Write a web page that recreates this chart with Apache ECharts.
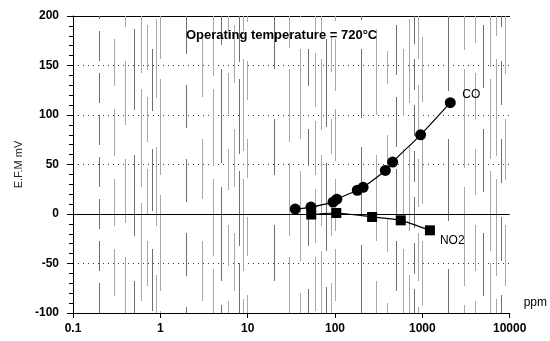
<!DOCTYPE html>
<html>
<head>
<meta charset="utf-8">
<script src="https://cdn.jsdelivr.net/npm/echarts@6/dist/echarts.min.js"></script>
<style>
html,body{margin:0;padding:0;background:#fff;}
#chart{width:550px;height:341px;}
</style>
</head>
<body>
<div id="chart"></div>
<script>
// Gas concentration (ppm) vs. sensor EMF (mV)
var coPpm   = [35, 53, 95, 105, 180, 210, 377, 457, 955, 2090];
var coMv    = [5, 7, 12, 15, 24, 27, 44, 52.5, 80, 112.5];
var no2Ppm  = [53.5, 103.5, 266, 566, 1222];
var no2Mv   = [-0.5, 1, -3, -6.4, -16.5];
var xDecades = [0.1, 1, 10, 100, 1000];
var titleText = 'Operating temperature = 720\u00B0C';

function pairs(xs, ys) { return xs.map(function (x, i) { return [x, ys[i]]; }); }

// log-scale vertical gridlines at 1..9 of every decade, broken dash patterns
var gridLines = [];
var n = 0;
xDecades.forEach(function (d, di) {
  for (var k = (di === 0 ? 2 : 1); k <= 9; k++) {
    var dash = [30 + (n * 17) % 70, 12 + (n * 11) % 40];
    gridLines.push({
      xAxis: d * k,
      lineStyle: {
        color: n % 3 === 0 ? '#6e6e6e' : '#a8a8a8',
        type: dash, dashOffset: (n * 53) % 110, width: 1
      }
    });
    n++;
  }
});

var font = 'Liberation Sans';
var chart = echarts.init(document.getElementById('chart'));
chart.setOption({
  animation: false,
  textStyle: { fontFamily: font },
  title: {
    text: titleText, left: 181, top: 24,
    textStyle: { fontFamily: font, fontSize: 13, fontWeight: 'bold', color: '#000' }
  },
  grid: { left: 73, right: 37, top: 16, bottom: 28, containLabel: false },
  xAxis: [{
    type: 'log', min: 0.1, max: 10000, logBase: 10,
    name: 'ppm', nameLocation: 'end', nameGap: 14,
    nameTextStyle: { fontSize: 12, color: '#000', verticalAlign: 'bottom', padding: [0, 0, 4, 0] },
    axisLine: { onZero: false, lineStyle: { color: '#000', width: 1 } },
    axisTick: { inside: false, length: 5, lineStyle: { color: '#000' } },
    axisLabel: { fontSize: 12, fontWeight: 'bold', color: '#000', margin: 10,
      formatter: function (v) { return String(v); } },
    splitLine: { show: false }
  }, {
    type: 'log', min: 0.1, max: 10000, position: 'top',
    axisLine: { show: true, onZero: false, lineStyle: { color: '#000', width: 1 } },
    axisTick: { show: false }, axisLabel: { show: false }, splitLine: { show: false }
  }],
  yAxis: {
    type: 'value', min: -100, max: 200, interval: 50,
    name: 'E.F.M mV', nameLocation: 'middle', nameGap: 38, nameRotate: 90,
    nameTextStyle: { fontSize: 11, color: '#222' },
    axisLine: { show: true, lineStyle: { color: '#000', width: 1 } },
    axisTick: { show: true, inside: false, length: 6, lineStyle: { color: '#000' } },
    minorTick: { show: true, splitNumber: 5, length: 4, lineStyle: { color: '#000' } },
    axisLabel: { fontSize: 12, fontWeight: 'bold', color: '#000', margin: 14 },
    splitLine: { show: true, lineStyle: { color: '#333', type: [1, 4], width: 1 } }
  },
  series: [{
    type: 'line', name: 'grid', data: [], silent: true,
    markLine: {
      silent: true, symbol: 'none', label: { show: false },
      data: gridLines
    }
  }, {
    type: 'line', name: 'zero', data: [], silent: true,
    markLine: {
      silent: true, symbol: 'none', label: { show: false },
      lineStyle: { color: '#000', type: 'solid', width: 1 },
      data: [{ yAxis: 0 }]
    }
  }, {
    type: 'line', name: 'CO', smooth: 0.3,
    data: pairs(coPpm, coMv),
    symbol: 'circle', symbolSize: 11,
    itemStyle: { color: '#000' }, lineStyle: { color: '#000', width: 1.2 },
    endLabel: { show: true, formatter: 'CO', color: '#000', fontSize: 12, offset: [4, -8] },
    z: 5
  }, {
    type: 'line', name: 'NO2', smooth: 0.2,
    data: pairs(no2Ppm, no2Mv),
    symbol: 'rect', symbolSize: 10,
    itemStyle: { color: '#000' }, lineStyle: { color: '#000', width: 1.2 },
    endLabel: { show: true, formatter: 'NO2', color: '#000', fontSize: 12, offset: [2, 10] },
    z: 5
  }]
});
</script>
</body>
</html>
